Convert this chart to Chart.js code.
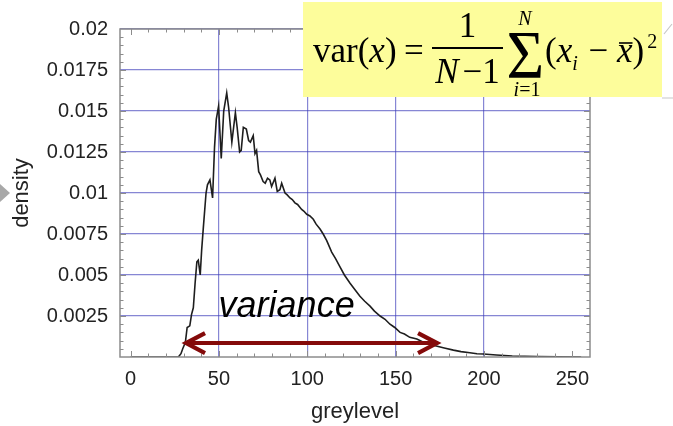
<!DOCTYPE html>
<html>
<head>
<meta charset="utf-8">
<script src="https://cdn.jsdelivr.net/npm/chart.js@4.4.1/dist/chart.umd.min.js"></script>
<style>
  html, body { margin: 0; padding: 0; background: #ffffff; }
  #wrap { width: 673px; height: 426px; position: relative; }
</style>
</head>
<body>
<div id="wrap"><canvas id="c" width="673" height="426"></canvas></div>
<script>
// ---- data ----
const greyLevels = [0, 27, 28.5, 29.5, 31, 32, 33.5, 34.5, 35.5, 36.5, 37.5, 38.3, 39.4, 40.2, 41.1, 42.7, 43.5, 44.9, 46.4, 47.5, 48.5, 49.8, 51.3, 52.7, 54.4, 55.5, 57.3, 59.3, 60.3, 61.7, 62.6, 63.8, 65.5, 66.8, 67.8, 69.4, 70.4, 71.3, 72.5, 73.5, 75, 76.2, 77.5, 78.8, 79.8, 81.7, 83, 84.5, 85.5, 87.4, 88.5, 90.2, 91.5, 93, 94.5, 96.8, 98, 99.7, 101.5, 103.4, 105, 107.2, 109, 111, 113.8, 116, 118.5, 121, 124.2, 127, 129.8, 132.5, 135.5, 138, 141.2, 144, 146.8, 149.5, 152.5, 155, 158, 162, 165.7, 169, 173, 177.5, 182.7, 187, 192, 196, 199.7, 207, 216, 230, 255];
const density = [0, 0, 0.0002, 0.0005, 0.0009, 0.0018, 0.0019, 0.0026, 0.0030, 0.0045, 0.0058, 0.0059, 0.0050, 0.0065, 0.0078, 0.0100, 0.0105, 0.0108, 0.0097, 0.0128, 0.0145, 0.0153, 0.0121, 0.0150, 0.0161, 0.0152, 0.0131, 0.0149, 0.0140, 0.0125, 0.0126, 0.0140, 0.0139, 0.0132, 0.0131, 0.0135, 0.0124, 0.0126, 0.0113, 0.0111, 0.0107, 0.0106, 0.0109, 0.0108, 0.0104, 0.0109, 0.0101, 0.0102, 0.0106, 0.0100, 0.0099, 0.0097, 0.0096, 0.0094, 0.0093, 0.0090, 0.0089, 0.0087, 0.0086, 0.0084, 0.0081, 0.0078, 0.0075, 0.0071, 0.0064, 0.0060, 0.0055, 0.0050, 0.0045, 0.0041, 0.0037, 0.0034, 0.0031, 0.0028, 0.0025, 0.0023, 0.0020, 0.0018, 0.0015, 0.0014, 0.0012, 0.0011, 0.0009, 0.0008, 0.00067, 0.00055, 0.00042, 0.00033, 0.00026, 0.0002, 0.00018, 0.00012, 0.00006, 0.00002, 0];
const xTickValues = [0, 50, 100, 150, 200, 250];
const xTickLabels = ['0', '50', '100', '150', '200', '250'];
const xGridValues = [50, 100, 150, 200];
const yTickValues = [0.0025, 0.005, 0.0075, 0.01, 0.0125, 0.015, 0.0175, 0.02];
const yTickLabels = ['0.0025', '0.005', '0.0075', '0.01', '0.0125', '0.015', '0.0175', '0.02'];
const arrowFrom = 30.8;   // greylevel where the variance arrow starts
const arrowTo = 174;      // greylevel where it ends
const arrowLevel = 0.00085; // density level of the arrow
const xTitle = 'greylevel';
const yTitle = 'density';
const annotationText = 'variance';

const gridColor = 'rgba(60,60,185,0.62)';
const sans = '"Liberation Sans", Arial, sans-serif';
const serif = '"Liberation Serif", "Times New Roman", serif';

const decorPlugin = {
  id: 'decor',
  afterDraw(chart) {
    const ctx = chart.ctx;
    const a = chart.chartArea;
    const xs = chart.scales.x, ys = chart.scales.y;
    ctx.save();
    // frame
    ctx.strokeStyle = '#8c8c8c';
    ctx.lineWidth = 1.5;
    ctx.strokeRect(a.left, a.top, a.right - a.left, a.bottom - a.top);
    // minor ticks
    ctx.lineWidth = 1;
    ctx.strokeStyle = '#8c8c8c';
    ctx.beginPath();
    for (let v = 0; v <= 255; v += 10) {
      const px = Math.round(xs.getPixelForValue(v)) + 0.5;
      const len = (v % 50 === 0) ? 6 : 3.5;
      ctx.moveTo(px, a.bottom); ctx.lineTo(px, a.bottom - len);
      ctx.moveTo(px, a.top); ctx.lineTo(px, a.top + len);
    }
    for (let k = 1; k < 40; k++) {
      const v = k * 0.0005;
      const py = Math.round(ys.getPixelForValue(v)) + 0.5;
      const len = (k % 5 === 0) ? 6 : 3.5;
      ctx.moveTo(a.left, py); ctx.lineTo(a.left + len, py);
      ctx.moveTo(a.right, py); ctx.lineTo(a.right - len, py);
    }
    ctx.stroke();

    // variance label
    ctx.fillStyle = '#000';
    ctx.font = 'italic 36px ' + sans;
    ctx.textBaseline = 'alphabetic';
    ctx.textAlign = 'left';
    ctx.fillText(annotationText, xs.getPixelForValue(49.8), 316.5);

    // arrow
    const x1 = xs.getPixelForValue(arrowFrom), x2 = xs.getPixelForValue(arrowTo);
    const ay = ys.getPixelForValue(arrowLevel);
    ctx.strokeStyle = '#840a0a';
    ctx.lineWidth = 4;
    ctx.lineCap = 'butt';
    ctx.beginPath();
    ctx.moveTo(x1 + 2, ay); ctx.lineTo(x2 - 2, ay);
    ctx.stroke();
    ctx.lineWidth = 4.2;
    ctx.lineJoin = 'miter';
    ctx.beginPath();
    ctx.moveTo(x1 + 20, ay - 10); ctx.lineTo(x1 + 1, ay); ctx.lineTo(x1 + 20, ay + 10);
    ctx.moveTo(x2 - 20, ay - 10); ctx.lineTo(x2 - 1, ay); ctx.lineTo(x2 - 20, ay + 10);
    ctx.stroke();

    // slide bullet triangle
    ctx.fillStyle = '#a8a8a8';
    ctx.beginPath();
    ctx.moveTo(0, 184); ctx.lineTo(10, 193); ctx.lineTo(0, 202); ctx.closePath();
    ctx.fill();

    // faint slide lines on the right
    ctx.strokeStyle = '#c8c8c8';
    ctx.lineWidth = 1.2;
    ctx.beginPath();
    ctx.moveTo(664, 34); ctx.lineTo(672, 24);
    ctx.moveTo(662, 98); ctx.lineTo(673, 98);
    ctx.stroke();

    // formula box
    ctx.fillStyle = '#fdfd9b';
    ctx.fillRect(303, 2, 359, 95);
    ctx.fillStyle = '#000';
    ctx.textBaseline = 'alphabetic';
    ctx.textAlign = 'left';
    const big = 35, small = 20;
    function run(pieces, x, y) {
      for (const p of pieces) {
        ctx.font = (p.it ? 'italic ' : '') + (p.size || big) + 'px ' + serif;
        const w = ctx.measureText(p.t).width;
        ctx.fillText(p.t, x, y + (p.dy || 0));
        if (p.bar) {
          ctx.save(); ctx.lineWidth = 1.6; ctx.strokeStyle = '#000';
          ctx.beginPath(); ctx.moveTo(x + 2, y - 19); ctx.lineTo(x + w, y - 19); ctx.stroke(); ctx.restore();
        }
        x += w + (p.gap || 0);
      }
      return x;
    }
    function width(pieces) {
      let w = 0;
      for (const p of pieces) {
        ctx.font = (p.it ? 'italic ' : '') + (p.size || big) + 'px ' + serif;
        w += ctx.measureText(p.t).width + (p.gap || 0);
      }
      return w;
    }
    const base = 62;
    run([{t: 'var('}, {t: 'x', it: true}, {t: ')'}], 313, base);
    run([{t: '='}], 404, base);
    // fraction
    const cx = 467.5;
    const num = [{t: '1'}];
    run(num, cx - width(num) / 2, 37);
    ctx.lineWidth = 1.8; ctx.strokeStyle = '#000';
    ctx.beginPath(); ctx.moveTo(432, 48); ctx.lineTo(503, 48); ctx.stroke();
    const den = [{t: 'N', it: true, gap: 4}, {t: '\u2212'}, {t: '1'}];
    run(den, cx - width(den) / 2, 83);
    // summation sign fitted into its box
    ctx.save();
    ctx.font = '40px ' + serif;
    const m = ctx.measureText('\u03A3');
    const gw = m.actualBoundingBoxLeft + m.actualBoundingBoxRight;
    const gh = m.actualBoundingBoxAscent + m.actualBoundingBoxDescent;
    const sx = 34 / gw, sy = 44 / gh;
    ctx.translate(508, 33);
    ctx.scale(sx, sy);
    ctx.fillText('\u03A3', m.actualBoundingBoxLeft, m.actualBoundingBoxAscent);
    ctx.restore();
    const up = [{t: 'N', it: true, size: small}];
    run(up, 525 - width(up) / 2, 25);
    const lo = [{t: 'i', it: true, size: small}, {t: '=1', size: small}];
    run(lo, 527 - width(lo) / 2, 96);
    const endX = run([{t: '('}, {t: 'x', it: true}, {t: 'i', it: true, size: small, dy: 8, gap: 2}, {t: ' \u2212 '}, {t: 'x', it: true, bar: true}, {t: ')', gap: 3}], 545, base);
    run([{t: '2', size: small}], endX, 48);
    ctx.restore();
  }
};

const ctx = document.getElementById('c').getContext('2d');
new Chart(ctx, {
  type: 'line',
  data: {
    datasets: [{
      data: greyLevels.map((g, i) => ({x: g, y: density[i]})),
      borderColor: '#1e1e1e',
      borderWidth: 1.6,
      pointRadius: 0,
      tension: 0,
      fill: false
    }]
  },
  options: {
    responsive: false,
    animation: false,
    devicePixelRatio: 1,
    layout: {padding: {left: 0, top: 29, right: 83, bottom: 0}},
    plugins: {legend: {display: false}, tooltip: {enabled: false}},
    scales: {
      x: {
        type: 'linear', min: -6, max: 260,
        afterBuildTicks: s => { s.ticks = xTickValues.map(v => ({value: v})); },
        afterFit: s => { s.height = 69; },
        border: {display: false},
        grid: {drawTicks: false, lineWidth: 1.2, color: c => (c.tick && xGridValues.includes(c.tick.value)) ? gridColor : 'rgba(0,0,0,0)'},
        ticks: {autoSkip: false, maxRotation: 0, padding: 10, color: '#222', font: {family: sans, size: 20}, callback: (v, i) => xTickLabels[i]},
        title: {display: true, text: xTitle, color: '#222', font: {family: sans, size: 22}, padding: {top: 0, bottom: 1}}
      },
      y: {
        type: 'linear', min: 0, max: 0.02,
        afterBuildTicks: s => { s.ticks = yTickValues.map(v => ({value: v})); },
        afterFit: s => { s.width = 120; },
        border: {display: false},
        grid: {drawTicks: false, lineWidth: 1.2, color: gridColor},
        ticks: {autoSkip: false, padding: 12, color: '#222', font: {family: sans, size: 20}, callback: (v, i) => yTickLabels[i]},
        title: {display: true, text: yTitle, color: '#222', font: {family: sans, size: 22}, padding: {top: 9, bottom: 0}}
      }
    }
  },
  plugins: [decorPlugin]
});
</script>
</body>
</html>
